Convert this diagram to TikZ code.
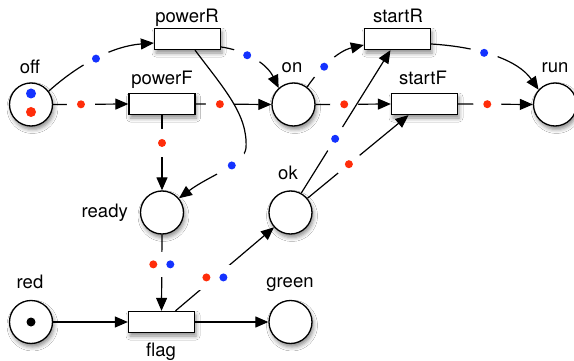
\documentclass[tikz,border=0pt]{standalone}
\usepackage{fontspec}
\setmainfont{TeX Gyre Heros}
\usetikzlibrary{arrows.meta,shadows.blur}
\definecolor{tokred}{RGB}{255,45,10}
\definecolor{tokblue}{RGB}{20,50,255}
\begin{document}
\begin{tikzpicture}[x=1pt,y=-1pt,
  every node/.style={font=\fontsize{18.5}{22}\selectfont},
  softshadow/.style={blur shadow={shadow xshift=1.5pt,shadow yshift=-3.5pt,shadow blur radius=4pt,shadow opacity=45}},
  place/.style={circle,draw,line width=1.3pt,minimum size=43pt,inner sep=0pt,fill=white,softshadow},
  trans/.style={rectangle,draw,line width=1.3pt,minimum width=66pt,minimum height=21pt,inner sep=0pt,fill=white,softshadow},
  lbl/.style={inner sep=0pt},
  conn/.style={line width=1.2pt,-{Triangle[length=13pt,width=11pt]}},
  gapr/.style={circle,fill=white,inner sep=0pt,minimum size=28pt,
    path picture={\fill[tokred] (path picture bounding box.center) circle (4pt);}},
  gapb/.style={circle,fill=white,inner sep=0pt,minimum size=28pt,
    path picture={\fill[tokblue] (path picture bounding box.center) circle (4pt);}},
  gapbwide/.style={gapb,minimum size=34pt},
  gaprb/.style={rectangle,fill=white,inner sep=0pt,minimum width=32pt,minimum height=25pt,
    path picture={\fill[tokred] ([xshift=-8.5pt]path picture bounding box.center) circle (4pt);
                  \fill[tokblue] ([xshift=8.5pt]path picture bounding box.center) circle (4pt);}}
]
\useasboundingbox (0,0) rectangle (574,361);
\fill[white] (0,0) rectangle (574,361);
\clip (0,0) rectangle (574,361);

% places and transitions
\node[place] (off) at (31,104.5) {};
\node[trans] (powerR) at (187.5,39) {};
\node[trans] (powerF) at (162,104) {};
\node[place] (on) at (293.5,104.5) {};
\node[trans] (startR) at (397.5,39) {};
\node[trans] (startF) at (424.5,104) {};
\node[place] (run) at (555,104.5) {};
\node[place] (ready) at (162,212.5) {};
\node[place] (ok) at (290.5,212.5) {};
\node[place] (red) at (31,322) {};
\node[trans] (flag) at (161.5,322) {};
\node[place] (green) at (290.5,322) {};

% tokens
\fill[tokblue] ([yshift=11pt]off.center) circle (5pt);
\fill[tokred] ([yshift=-7.5pt]off.center) circle (5pt);
\fill[black] (red.center) circle (4.5pt);

% labels
\node[lbl,anchor=base] (offL) at (30,74) {off};
\node[lbl,anchor=base] (powerRL) at (187,22.5) {powerR};
\node[lbl,anchor=base] (powerFL) at (162,85) {powerF};
\node[lbl,anchor=base] (onL) at (292,73) {on};
\node[lbl,anchor=base] (startRL) at (398,22.5) {startR};
\node[lbl,anchor=base] (startFL) at (423,85) {startF};
\node[lbl,anchor=base] (runL) at (555,73) {run};
\node[lbl,anchor=base east] (readyL) at (128,218) {ready};
\node[lbl,anchor=base] (okL) at (288,179) {ok};
\node[lbl,anchor=base] (redL) at (30,288) {red};
\node[lbl,anchor=base] (greenL) at (290,287) {green};
\node[lbl,anchor=base] (flagL) at (161,356) {flag};

% straight arcs
\draw[conn] (off.east) -- node[gapr,pos=.37]{} (powerF.west);
\draw[conn] (powerF.east) -- node[gapr,pos=.32]{} (on.west);
\draw[conn] (on.east) -- node[gapr,pos=.38]{} (startF.west);
\draw[conn] (startF.east) -- node[gapr,pos=.39]{} (run.west);
\draw[conn] (red.east) -- (flag.west);
\draw[conn] (flag.east) -- (green.west);
\draw[conn] (powerF.south) -- node[gapr,pos=.37]{} (ready.north);
\draw[conn] (ready.south) -- node[gaprb,pos=.39]{} (flag.north);

% curved arcs
\draw[conn] (off.37) .. controls (80,63) and (114,46) .. node[gapb,pos=.48]{} ([yshift=-4pt]powerR.west);
\draw[conn] ([yshift=-8pt]powerR.east) .. controls (243,50) and (266,62) .. node[gapb,pos=.4]{} (on.132);
\draw[conn] (on.52) .. controls (320,68) and (338,51) .. node[gapb,pos=.38]{} ([yshift=-6pt]startR.west);
\draw[conn] ([yshift=-5pt]startR.east) .. controls (480,47) and (518,60) .. node[gapb,pos=.4]{} (run.138);
\draw[conn] ([xshift=7.5pt]powerR.south) .. controls (225,90) and (248,115) .. (246,148)
   .. controls (244,165) and (210,175) .. node[gapbwide,pos=.38]{} (ready.40);

% diagonal arcs
\draw[conn] ([xshift=14pt]flag.north) -- node[gaprb,pos=.40]{} (ok.222);
\draw[conn] (ok.61) -- node[gapb,pos=.38]{} ([xshift=-7pt]startR.south);
\draw[conn] (ok.40) -- node[gapr,pos=.41]{} ([xshift=-16pt]startF.south);
\end{tikzpicture}
\end{document}
